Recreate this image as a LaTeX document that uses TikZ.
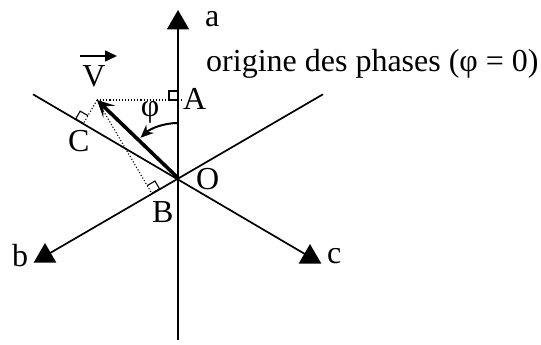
\documentclass[tikz,border=0pt]{standalone}
\usepackage{fontspec}
\setmainfont{Liberation Serif}
\usetikzlibrary{arrows.meta,calc,shapes.geometric}
\begin{document}
\begin{tikzpicture}[x=1pt,y=-1pt,
  lbl/.style={inner sep=0pt,font=\fontsize{32}{37}\selectfont},
  axis/.style={line width=1.7pt},
  proj/.style={line width=1.1pt,dotted},
  tri/.style={regular polygon,regular polygon sides=3,fill=black,inner sep=0pt,minimum size=26pt},
  sq/.style={line width=1.1pt}]
\useasboundingbox (0,0) rectangle (541,345);
% points
\coordinate (O) at (178,178);
\coordinate (bot) at (178,340);
\coordinate (ul) at ($(O)+(-145,-83.7)$);
\coordinate (ur) at ($(O)+(145,-83.7)$);
\coordinate (V) at (97,100);
% arrow heads
\node[tri] (ta) at (178,23) {};
\node[tri] (tb) at (45,256) {};
\node[tri] (tc) at (310,257) {};
% axes
\draw[axis] (bot) -- (ta.center);
\draw[axis] (ur) -- (tb.center);
\draw[axis] (ul) -- (tc.center);
% projections
\coordinate (A) at (178,100);
\coordinate (C) at ($(O)!(V)!(ul)$);
\coordinate (B) at ($(O)!(V)!(tb.center)$);
\coordinate (Aend) at (183,100);
\draw[proj] (V) -- (Aend);
\draw[proj] (V) -- (C);
\draw[proj] (V) -- (B);
% right angle marks
\draw[sq] (A) -- ++(-9,0) -- ++(0,-9) -- ++(9,0);
\draw[sq] (C) -- ($(C)!9pt!(ul)$) -- ($($(C)!9pt!(ul)$)+($(C)!9pt!(V)$)-(C)$) -- ($(C)!9pt!(V)$);
\draw[sq] (B) -- ($(B)!9pt!(O)$) -- ($($(B)!9pt!(O)$)+($(B)!9pt!(V)$)-(B)$) -- ($(B)!9pt!(V)$);
% vector V
\draw[line width=3.6pt,-{Stealth[length=17pt,width=17pt,inset=8pt]}] (O) -- (V);
% phi arc
\draw[line width=2pt,-{Stealth[length=13pt,width=11pt]}] ($(O)+(0,-55)$) arc[start angle=-90,end angle=-133,radius=55];
% labels
\node[lbl,anchor=base] (Vl) at (94,87) {V};
\coordinate (va1) at (80,56);
\coordinate (va2) at (117,56);
\draw[line width=1.6pt,-{Stealth[length=12pt,width=11pt,inset=0pt]}] (va1) -- (va2);
\node[lbl,anchor=base west] (la) at (205,27) {a};
\node[lbl,anchor=base west] (lorig) at (206,72) {origine des phases (φ = 0)};
\node[lbl,anchor=base west] (lA) at (183,110) {A};
\node[lbl,anchor=base west] (lC) at (68,151) {C};
\node[lbl,anchor=base west] (lB) at (152,222) {B};
\node[lbl,anchor=base west] (lO) at (196,189) {O};
\node[lbl,anchor=base west] (lb) at (12,266) {b};
\node[lbl,anchor=base west] (lc) at (327,263) {c};
\node[lbl,anchor=base] (lphi) at (150,116) {φ};
\end{tikzpicture}
\end{document}
